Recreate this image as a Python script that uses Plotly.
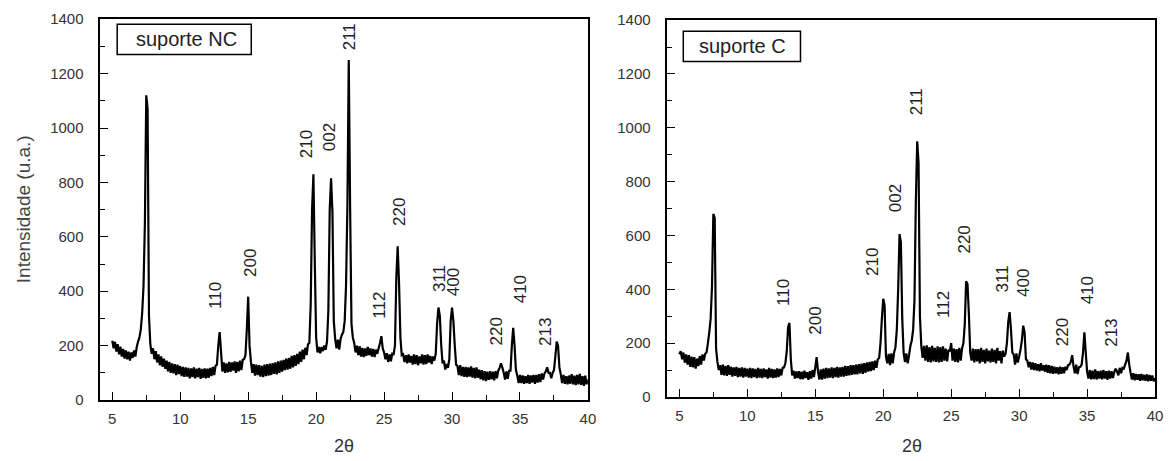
import plotly.graph_objects as go

# 2-theta sampling grid (degrees), 0.1 step from 5 to 40
two_theta = [round(5 + 0.1 * i, 1) for i in range(351)]

intensity_nc = [
    218, 190, 214, 178, 205, 168, 196, 160, 188, 152,
    182, 150, 178, 145, 175, 155, 182, 160, 195, 215,
    230, 260, 320, 420, 650, 1120, 1070, 310, 205, 170,
    190, 150, 180, 138, 168, 128, 160, 122, 152, 115,
    145, 105, 140, 100, 135, 98, 132, 92, 130, 95,
    125, 88, 122, 85, 120, 86, 118, 80, 116, 84,
    120, 80, 115, 84, 118, 78, 114, 82, 116, 80,
    115, 82, 118, 88, 122, 92, 126, 130, 200, 250,
    180, 105, 138, 100, 135, 102, 140, 104, 138, 108,
    142, 100, 140, 105, 145, 110, 148, 150, 165, 260,
    380, 200, 142, 100, 132, 90, 130, 92, 128, 86,
    126, 84, 130, 88, 132, 90, 134, 92, 136, 96,
    138, 94, 142, 100, 145, 104, 148, 110, 152, 112,
    155, 115, 162, 120, 165, 126, 170, 132, 178, 140,
    185, 150, 192, 165, 205, 210, 350, 700, 830, 510,
    230, 175, 195, 172, 195, 180, 200, 185, 215, 330,
    700, 815, 690, 290, 225, 190, 222, 185, 225, 240,
    250, 290, 420, 710, 1250, 710, 280, 230, 210, 175,
    200, 165, 198, 160, 192, 158, 190, 162, 195, 165,
    190, 160, 188, 158, 185, 170, 190, 210, 235, 190,
    175, 150, 172, 140, 168, 142, 170, 168, 200, 450,
    565, 430, 230, 165, 168, 140, 165, 135, 168, 138,
    162, 130, 168, 132, 165, 128, 160, 135, 168, 130,
    165, 132, 168, 138, 162, 132, 160, 145, 170, 280,
    340, 310, 205, 135, 145, 112, 132, 118, 150, 290,
    340, 290, 200, 130, 125, 92, 128, 88, 122, 85,
    122, 84, 120, 86, 124, 82, 118, 80, 120, 82,
    112, 76, 110, 72, 106, 70, 104, 74, 106, 76,
    104, 72, 106, 80, 108, 118, 135, 120, 100, 75,
    105, 78, 110, 105, 200, 265, 200, 110, 90, 62,
    92, 62, 90, 60, 88, 62, 92, 60, 90, 64,
    92, 60, 92, 64, 95, 66, 98, 75, 98, 105,
    120, 100, 100, 80, 100, 110, 160, 215, 200, 120,
    95, 62, 92, 60, 88, 58, 90, 60, 95, 58,
    90, 55, 92, 58, 96, 56, 88, 52, 90, 58,
    75,
]

intensity_c = [
    158, 170, 140, 165, 128, 158, 120, 155, 112, 150,
    110, 148, 105, 142, 115, 152, 120, 158, 135, 160,
    165, 200, 240, 290, 410, 680, 665, 180, 130, 100,
    118, 82, 120, 80, 115, 78, 118, 82, 112, 76,
    110, 78, 112, 74, 108, 76, 110, 72, 108, 76,
    105, 72, 108, 70, 106, 74, 104, 70, 108, 72,
    104, 70, 106, 74, 102, 68, 108, 72, 104, 70,
    102, 72, 106, 74, 104, 80, 108, 110, 125, 170,
    260, 275, 140, 80, 98, 68, 95, 70, 96, 66,
    94, 66, 98, 70, 92, 64, 96, 68, 100, 74,
    110, 148, 95, 65, 102, 64, 105, 68, 108, 70,
    106, 72, 110, 70, 108, 74, 112, 72, 110, 76,
    112, 76, 115, 78, 114, 80, 118, 82, 118, 84,
    120, 84, 122, 88, 124, 86, 126, 90, 128, 94,
    130, 96, 132, 100, 135, 108, 140, 145, 200, 290,
    365, 340, 150, 125, 160, 118, 162, 125, 165, 185,
    250, 400, 605, 575, 290, 165, 130, 162, 125, 155,
    190, 210, 250, 360, 730, 950, 870, 300, 190, 145,
    190, 135, 192, 130, 185, 128, 190, 132, 182, 130,
    188, 128, 185, 130, 188, 135, 180, 132, 175, 170,
    200, 135, 180, 130, 178, 128, 182, 135, 180, 200,
    270, 430, 420, 310, 165, 135, 180, 128, 178, 132,
    178, 125, 182, 130, 175, 125, 180, 132, 172, 128,
    180, 130, 175, 125, 182, 135, 170, 125, 172, 150,
    160, 200, 280, 315, 250, 165, 158, 120, 162, 128,
    150, 175, 210, 265, 240, 140, 135, 110, 130, 102,
    128, 100, 125, 98, 122, 95, 125, 98, 118, 94,
    120, 90, 118, 88, 115, 86, 112, 88, 110, 84,
    112, 86, 110, 88, 112, 100, 118, 120, 130, 155,
    115, 88, 120, 85, 110, 112, 120, 165, 240, 165,
    95, 68, 100, 65, 98, 66, 102, 65, 96, 68,
    98, 65, 100, 68, 96, 64, 98, 68, 96, 70,
    92, 105, 95, 80, 108, 88, 108, 105, 120, 135,
    165, 120, 90, 65, 88, 62, 85, 64, 84, 60,
    85, 62, 82, 60, 84, 58, 82, 60, 80, 58,
    70,
]

# Miller-index peak labels
peak_labels = ["110", "200", "210", "002", "211", "112", "220", "311", "400", "220", "410", "213"]
label_x_nc = [12.55, 15.22, 19.28, 20.96, 22.45, 24.6, 26.14, 29.03, 30.12, 33.3, 35.05, 36.87]
label_y_nc = [329, 446, 883, 908, 1278, 292, 631, 391, 373, 193, 347, 193]
label_x_c = [12.65, 15.0, 19.24, 20.9, 22.41, 24.47, 25.99, 28.8, 30.33, 33.2, 35.0, 36.78]
label_y_c = [330, 225, 442, 681, 1041, 288, 524, 382, 363, 180, 337, 180]

x_ticks = [5, 10, 15, 20, 25, 30, 35, 40]
y_ticks = [0, 200, 400, 600, 800, 1000, 1200, 1400]

FONT = "Liberation Sans, Arial, sans-serif"
W, H = 1170, 461


def py(v):
    """paper y fraction for a pixel row measured from the top"""
    return (H - v) / H


fig = go.Figure()
fig.add_trace(go.Scatter(x=two_theta, y=intensity_nc, mode="lines",
                         line=dict(color="black", width=2.2, simplify=False), xaxis="x", yaxis="y",
                         showlegend=False, hoverinfo="skip"))
fig.add_trace(go.Scatter(x=two_theta, y=intensity_c, mode="lines",
                         line=dict(color="black", width=2.2, simplify=False), xaxis="x2", yaxis="y2",
                         showlegend=False, hoverinfo="skip"))


def xax(domain, anchor):
    return dict(domain=domain, anchor=anchor, range=[4.12, 40], tickvals=x_ticks,
                ticks="inside", ticklen=8, tickwidth=1.3, tickcolor="black",
                minor=dict(dtick=2.5, tick0=5, ticks="inside", ticklen=5, tickwidth=1.2, tickcolor="black"),
                showline=True, linecolor="black", linewidth=1.5, mirror=True,
                showgrid=False, zeroline=False, ticklabelstandoff=4,
                tickfont=dict(family=FONT, size=15, color="#333"))


def yax(domain, anchor):
    return dict(domain=domain, anchor=anchor, range=[0, 1400], tickvals=y_ticks,
                ticks="inside", ticklen=8, tickwidth=1.3, tickcolor="black",
                minor=dict(dtick=100, ticks="inside", ticklen=5, tickwidth=1.2, tickcolor="black"),
                showline=True, linecolor="black", linewidth=1.5, mirror=True,
                showgrid=False, zeroline=False, ticklabelstandoff=12,
                tickfont=dict(family=FONT, size=15, color="#333"))


annotations = []
for lab, x, y in zip(peak_labels, label_x_nc, label_y_nc):
    annotations.append(dict(x=x, y=y, xref="x", yref="y", text=lab, textangle=-90,
                            showarrow=False, xanchor="center", yanchor="bottom",
                            font=dict(family=FONT, size=17, color="#222")))
for lab, x, y in zip(peak_labels, label_x_c, label_y_c):
    annotations.append(dict(x=x, y=y, xref="x2", yref="y2", text=lab, textangle=-90,
                            showarrow=False, xanchor="center", yanchor="bottom",
                            font=dict(family=FONT, size=17, color="#222")))

# panel titles in boxes
annotations.append(dict(x=188 / W, y=py(31.5), xref="paper", yref="paper", text="suporte NC",
                        showarrow=False, xanchor="center", yanchor="middle",
                        font=dict(family=FONT, size=20, color="#222")))
annotations.append(dict(x=748 / W, y=py(38.8), xref="paper", yref="paper", text="suporte C",
                        showarrow=False, xanchor="center", yanchor="middle",
                        font=dict(family=FONT, size=20, color="#222")))
# axis titles
annotations.append(dict(x=23 / W, y=py(208), xref="paper", yref="paper", text="Intensidade (u.a.)",
                        textangle=-90, showarrow=False, xanchor="center", yanchor="middle",
                        font=dict(family=FONT, size=19, color="#444")))
annotations.append(dict(x=346.5 / W, y=py(454), xref="paper", yref="paper", text="2θ",
                        showarrow=False, xanchor="center", yanchor="middle",
                        font=dict(family=FONT, size=18, color="#333")))
annotations.append(dict(x=918 / W, y=py(454), xref="paper", yref="paper", text="2θ",
                        showarrow=False, xanchor="center", yanchor="middle",
                        font=dict(family=FONT, size=18, color="#333")))

shapes = [
    dict(type="rect", xref="paper", yref="paper", x0=118 / W, x1=253 / W,
         y0=py(47.2), y1=py(15.8), line=dict(color="black", width=1.5)),
    dict(type="rect", xref="paper", yref="paper", x0=688 / W, x1=806 / W,
         y0=py(54.5), y1=py(23.1), line=dict(color="black", width=1.5)),
]

fig.update_layout(
    width=W, height=H,
    margin=dict(l=0, r=0, t=0, b=0),
    paper_bgcolor="white", plot_bgcolor="white",
    xaxis=xax([101 / W, 592 / W], "y"),
    yaxis=yax([py(406), py(10.6)], "x"),
    xaxis2=xax([672 / W, 1163 / W], "y2"),
    yaxis2=yax([py(402.8), py(11.6)], "x2"),
    annotations=annotations,
    shapes=shapes,
    showlegend=False,
)

fig.write_html("out.html", config={"displayModeBar": False},
               post_script="document.body.style.margin='0';document.body.style.overflow='hidden';")
